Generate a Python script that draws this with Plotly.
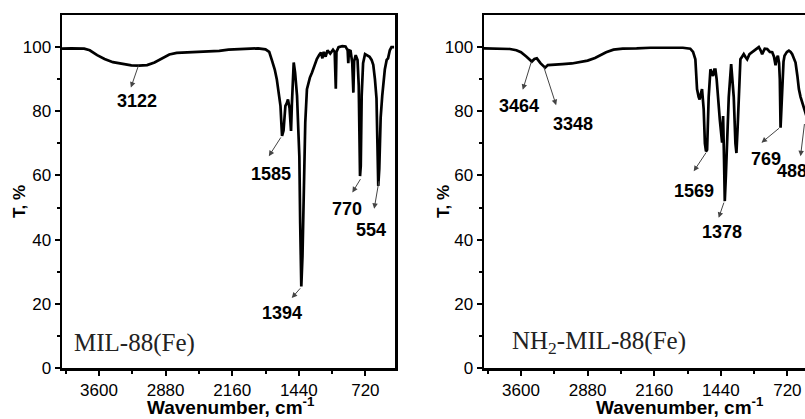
import plotly.graph_objects as go

# ---------------- data ----------------
mil_wn = [4000, 3900, 3760, 3700, 3620, 3540, 3450, 3350, 3250, 3170, 3080, 3000, 2920, 2840, 2760,
          2600, 2450, 2300, 2200, 2000, 1880, 1800, 1760, 1732, 1700, 1678, 1655, 1638, 1628, 1621,
          1605, 1585, 1570, 1557, 1540, 1530, 1524, 1515, 1505, 1495, 1480, 1459, 1445, 1434, 1425,
          1413, 1400, 1388, 1370, 1352, 1320, 1298, 1270, 1245, 1220, 1200, 1185, 1170, 1150, 1130,
          1100, 1070, 1052, 1045, 1040, 1033, 1010, 970, 935, 912, 905, 898, 880, 862, 850, 842, 825,
          805, 792, 778, 770, 760, 745, 724, 700, 675, 653, 635, 617, 600, 590, 581, 570, 555, 538,
          525, 510, 490, 475, 456, 438, 410]
mil_T = [99.5, 99.6, 99.5, 99.0, 97.5, 96.3, 95.3, 94.7, 94.3, 94.2, 94.4, 95.2, 96.5, 97.7, 98.2,
         98.4, 98.6, 98.8, 99.2, 99.5, 99.6, 99.3, 98.5, 96.0, 93.0, 90.0, 86.0, 81.7, 76.0, 72.3,
         74.0, 81.7, 82.5, 83.7, 81.0, 76.0, 73.9, 82.0, 90.0, 95.2, 92.0, 84.8, 74.0, 66.0, 45.0,
         25.4, 35.0, 53.5, 76.5, 86.9, 90.5, 92.0, 94.5, 96.3, 97.5, 98.3, 96.5, 98.5, 97.0, 99.0,
         98.0, 99.2, 98.5, 88.0, 87.0, 98.5, 100.0, 100.3, 100.2, 99.0, 95.0, 99.0, 98.8, 95.0, 85.8,
         95.5, 97.5, 96.0, 88.0, 59.8, 63.0, 85.0, 95.0, 97.8, 97.5, 97.0, 96.0, 94.5, 90.0, 84.0,
         70.0, 56.7, 62.0, 78.0, 84.8, 90.0, 93.0, 96.0, 96.5, 99.0, 100.0, 100.0]

nh2_wn = [4000, 3850, 3720, 3650, 3600, 3540, 3500, 3483, 3455, 3429, 3390, 3339, 3310, 3250, 3150,
          3050, 2950, 2880, 2800, 2740, 2680, 2600, 2500, 2350, 2200, 2000, 1850, 1770, 1740, 1715,
          1705, 1697, 1680, 1669, 1655, 1643, 1625, 1612, 1600, 1588, 1571, 1552, 1538, 1524, 1510,
          1498, 1485, 1473, 1451, 1426, 1415, 1405, 1397, 1385, 1372, 1354, 1328, 1312, 1300, 1282,
          1271, 1258, 1246, 1228, 1210, 1192, 1175, 1155, 1130, 1101, 1060, 1029, 1010, 993, 965,
          938, 910, 884, 865, 848, 835, 823, 810, 802, 794, 784, 776, 762, 751, 725, 704, 685, 668,
          650, 632, 612, 596, 578, 560, 532, 505, 488, 475, 460, 440, 420, 400]
nh2_T = [99.6, 99.6, 99.4, 99.0, 98.4, 97.0, 96.0, 95.5, 96.3, 96.5, 95.0, 93.6, 94.4, 94.6, 94.7,
         94.9, 95.3, 95.8, 96.6, 97.5, 98.4, 99.2, 99.5, 99.6, 99.8, 99.8, 99.8, 99.5, 98.5, 96.2,
         92.0, 86.9, 84.5, 83.7, 85.5, 86.9, 80.6, 70.0, 67.5, 68.0, 84.4, 93.1, 92.0, 91.0, 93.0,
         93.0, 90.0, 84.4, 77.5, 70.2, 78.5, 65.0, 52.0, 60.0, 71.3, 84.4, 94.7, 90.0, 84.4, 70.0,
         67.0, 75.0, 84.4, 96.2, 97.0, 97.8, 97.0, 96.2, 97.8, 98.4, 99.5, 100.0, 99.0, 97.8, 99.5,
         99.4, 98.5, 98.4, 97.0, 94.3, 96.5, 97.3, 95.0, 90.0, 74.9, 82.0, 90.0, 95.5, 97.3, 98.5,
         98.9, 98.5, 97.8, 96.5, 95.2, 91.0, 86.9, 84.5, 82.8, 79.6, 77.0, 76.0, 82.0, 90.0, 96.0,
         98.5, 99.0]

# peak labels and the curve points their arrows start from
mil_peak_labels = ["3122", "1585", "1394", "770", "554"]
mil_peak_wn = [3168, 1624, 1410, 764, 571]
mil_peak_T = [94.7, 72.3, 25.3, 59.3, 58.7]

nh2_peak_labels = ["3464", "3348", "1569", "1378", "769", "488"]
nh2_peak_wn = [3483, 3358, 1588, 1401, 794, 534]
nh2_peak_T = [95.9, 94.2, 67.6, 52.0, 75.1, 76.5]

x_tick_vals = [3600, 2880, 2160, 1440, 720]
y_tick_vals = [0, 20, 40, 60, 80, 100]
sample_names = ["MIL-88(Fe)", "NH<sub>2</sub>-MIL-88(Fe)"]

# ---------------- layout / style (positions of labels) ----------------
mil_arrow_head = [(3255, 87.4), (1764, 66.0), (1516, 21.8), (861, 54.7), (625, 49.6)]
mil_label_pos = [(3193, 83.2), (1742, 60.3), (1624, 17.2), (915, 49.6), (657, 43.1)]
nh2_arrow_head = [(3581, 86.7), (3220, 81.9), (1733, 61.3), (1463, 46.8), (1000, 70.2), (578, 66.0)]
nh2_label_pos = [(3618, 81.5), (3033, 75.9), (1733, 55.1), (1426, 42.3), (948, 65.0), (675, 61.5)]

W, H = 805, 419
L1, R1 = 62, 395
L2 = 484
TOP, BOT = 15, 368
scale = (4000 - 400) / (R1 - L1)          # wavenumber per pixel
x2_end = 4000 - (W - L2) * scale

TICK_FONT = dict(family="Liberation Sans, Arial, sans-serif", size=17, color="black")
LAB_FONT = dict(family="Liberation Sans, Arial, sans-serif", size=18, color="black", weight="bold")

fig = go.Figure()
fig.add_trace(go.Scatter(x=mil_wn, y=mil_T, mode="lines", line=dict(color="black", width=2.7),
                         xaxis="x", yaxis="y", showlegend=False, hoverinfo="skip"))
fig.add_trace(go.Scatter(x=nh2_wn, y=nh2_T, mode="lines", line=dict(color="black", width=2.7),
                         xaxis="x2", yaxis="y2", showlegend=False, hoverinfo="skip"))

def xax(domain, rng):
    return dict(domain=domain, range=rng, autorange=False, tickmode="array", tickvals=x_tick_vals,
                ticks="outside", ticklen=5, tickwidth=2, tickcolor="black", automargin=False,
                minor=dict(tickvals=[3960, 3240, 2520, 1800, 1080], ticks="outside", ticklen=3,
                           tickwidth=2, tickcolor="black"),
                showline=True, linewidth=2.5, linecolor="black", mirror=True,
                showgrid=False, zeroline=False, tickfont=TICK_FONT)

def yax(anchor, mirror):
    return dict(domain=[0, 1], range=[0, 110], autorange=False, tickmode="array",
                tickvals=y_tick_vals, anchor=anchor, automargin=False,
                ticks="outside", ticklen=5, tickwidth=2, tickcolor="black",
                minor=dict(tickvals=[10, 30, 50, 70, 90], ticks="outside", ticklen=3,
                           tickwidth=2, tickcolor="black"),
                showline=True, linewidth=2.5, linecolor="black", mirror=mirror,
                showgrid=False, zeroline=False, tickfont=TICK_FONT)

fig.update_layout(
    width=W, height=H,
    margin=dict(l=0, r=0, t=TOP, b=H - BOT, pad=0, autoexpand=False),
    paper_bgcolor="white", plot_bgcolor="white",
    xaxis=dict(xax([L1 / W, R1 / W], [4000, 400]), anchor="y"),
    yaxis=yax("x", True),
    xaxis2=dict(xax([L2 / W, 1.0], [4000, x2_end]), anchor="y2"),
    yaxis2=yax("x2", False),
)

ann = []
def add_peaks(labels, pw, pt, heads, labpos, xr, yr):
    for lab, w, t, (hx, hy), (lx, ly) in zip(labels, pw, pt, heads, labpos):
        ann.append(dict(x=hx, y=hy, ax=w, ay=t, xref=xr, yref=yr, axref=xr, ayref=yr, text="",
                        showarrow=True, arrowhead=2, arrowsize=1.1, arrowwidth=1,
                        arrowcolor="#444", standoff=0, startstandoff=0))
        ann.append(dict(x=lx, y=ly, xref=xr, yref=yr, text=lab, showarrow=False,
                        xanchor="center", yanchor="middle", font=LAB_FONT))

add_peaks(mil_peak_labels, mil_peak_wn, mil_peak_T, mil_arrow_head, mil_label_pos, "x", "y")
add_peaks(nh2_peak_labels, nh2_peak_wn, nh2_peak_T, nh2_arrow_head, nh2_label_pos, "x2", "y2")

SERIF = dict(family="Liberation Serif, Times New Roman, serif", size=25, color="#222")
ann.append(dict(x=3892, y=7.8, xref="x", yref="y", text=sample_names[0], showarrow=False,
                xanchor="left", yanchor="middle", font=SERIF))
ann.append(dict(x=3718, y=7.8, xref="x2", yref="y2", text=sample_names[1], showarrow=False,
                xanchor="left", yanchor="middle", font=SERIF))

TITLE_FONT = dict(family="Liberation Sans, Arial, sans-serif", size=19, color="black", weight="bold")
for cx in (231, 680):
    ann.append(dict(x=cx / W, y=(BOT - 406) / (BOT - TOP), xref="paper", yref="paper",
                    text="Wavenumber, cm<sup>-1</sup>", showarrow=False,
                    xanchor="center", yanchor="middle", font=TITLE_FONT))
for cx in (19, 443):
    ann.append(dict(x=cx / W, y=(BOT - 202) / (BOT - TOP), xref="paper", yref="paper",
                    text="T, %", showarrow=False, textangle=-90,
                    xanchor="center", yanchor="middle",
                    font=dict(family="Liberation Sans, Arial, sans-serif", size=17,
                              color="black", weight="bold")))

fig.update_layout(annotations=ann)
fig.write_html("out.html", config={"displayModeBar": False, "staticPlot": True},
               post_script="document.body.style.margin='0';document.body.style.overflow='hidden';")
